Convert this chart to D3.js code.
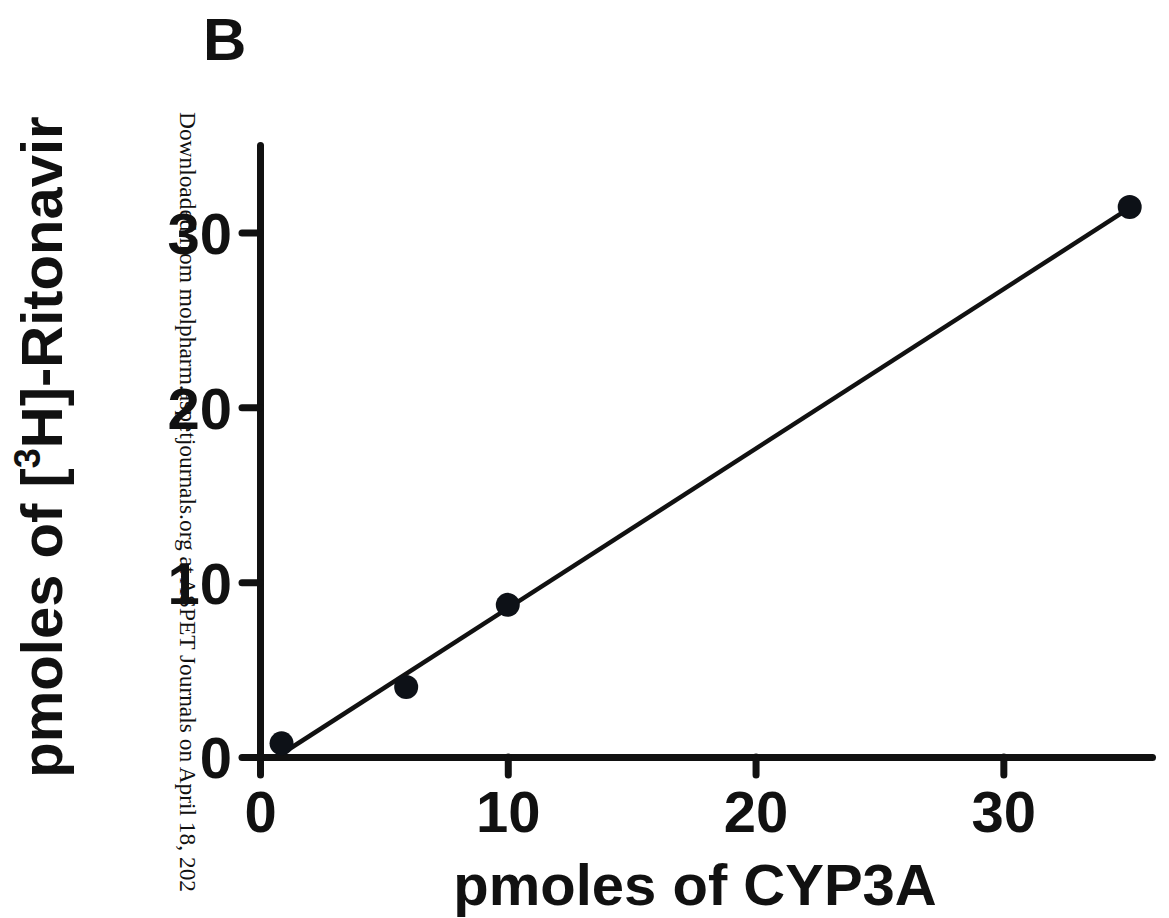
<!DOCTYPE html>
<html>
<head>
<meta charset="utf-8">
<script src="https://cdn.jsdelivr.net/npm/d3@7"></script>
<style>
  body { margin: 0; background: #fff; }
  svg text { font-family: "Liberation Sans", Arial, sans-serif; font-weight: bold; fill: #111; }
</style>
</head>
<body>
<svg width="1169" height="918"></svg>
<script>
// measured points (pmoles CYP3A vs pmoles [3H]-ritonavir)
var cyp = [0.87, 5.9, 10.0, 35.1]
var rit = [0.78, 4.0, 8.7, 31.45]
// fitted line end points as drawn
var fitX = [0.9, 35.1]
var fitY = [0.2, 31.4]
var xTicks = [0, 10, 20, 30]
var yTicks = [0, 10, 20, 30]

var svg = d3.select("svg")
var xScale = d3.scaleLinear().domain([0, 36]).range([260, 1152])
var yScale = d3.scaleLinear().domain([0, 35]).range([757, 145])

var xAxis = d3.axisBottom(xScale).tickValues(xTicks).tickSize(18).tickSizeOuter(0).tickPadding(16)
svg.append("g").attr("id", "xAxis")
  .attr("transform", "translate(0," + yScale(0) + ")")
  .call(xAxis)

var yAxis = d3.axisLeft(yScale).tickValues(yTicks).tickSize(18).tickSizeOuter(0).tickPadding(10)
svg.append("g").attr("id", "yAxis")
  .attr("transform", "translate(" + xScale(0) + ",0)")
  .call(yAxis)

svg.selectAll("#xAxis path, #yAxis path, #xAxis line, #yAxis line")
  .attr("stroke", "#111").attr("stroke-width", 7).attr("stroke-linecap", "round")
svg.selectAll("#xAxis text, #yAxis text")
  .attr("font-size", 58).attr("fill", "#111")
  .style("font-family", "'Liberation Sans', Arial, sans-serif").style("font-weight", "bold")
svg.selectAll("#yAxis text").attr("dy", "0.36em")

// fit line
var fit = fitX.map((x, i) => [x, fitY[i]])
svg.append("path")
  .datum(fit)
  .attr("d", d3.line().x(d => xScale(d[0])).y(d => yScale(d[1])))
  .attr("stroke", "#111").attr("stroke-width", 4.5).attr("fill", "none")

svg.selectAll("circle.pt")
  .data(cyp)
  .enter()
  .append("circle")
  .attr("class", "pt")
  .attr("r", 12)
  .attr("cx", d => xScale(d))
  .attr("cy", (d, i) => yScale(rit[i]))
  .attr("fill", "#0d1117")

// axis titles
svg.append("text")
  .attr("x", 695).attr("y", 905)
  .attr("text-anchor", "middle")
  .attr("font-size", 58)
  .text("pmoles of CYP3A")

var yt = svg.append("text")
  .attr("transform", "translate(62,447) rotate(-90)")
  .attr("text-anchor", "middle")
  .attr("font-size", 58)
yt.append("tspan").text("pmoles of [")
yt.append("tspan").attr("font-size", 36).attr("dy", -22).text("3")
yt.append("tspan").attr("dy", 22).text("H]-Ritonavir")

svg.append("text")
  .attr("x", 203).attr("y", 60)
  .attr("font-size", 60)
  .text("B")

// watermark
svg.append("text")
  .attr("transform", "translate(180,112) rotate(90)")
  .style("font-family", "'Liberation Serif', 'Times New Roman', serif")
  .style("font-weight", "normal")
  .attr("font-size", 23.4)
  .attr("fill", "#111")
  .text("Downloaded from molpharm.aspetjournals.org at ASPET Journals on April 18, 202")
</script>
</body>
</html>
